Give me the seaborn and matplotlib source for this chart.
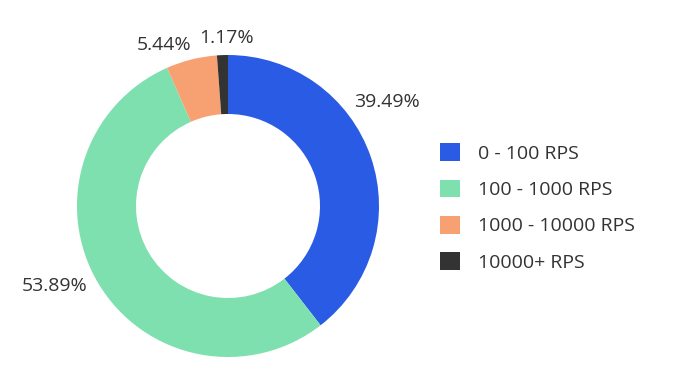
import matplotlib
matplotlib.use("Agg")
import matplotlib.pyplot as plt
import matplotlib.patches as mpatches
import seaborn as sns
import numpy as np

categories = ["0 - 100 RPS", "100 - 1000 RPS", "1000 - 10000 RPS", "10000+ RPS"]
values = [39.49, 53.89, 5.44, 1.17]
colors = ["#2A5BE5", "#7EE0AE", "#F7A072", "#333333"]
label_radius = [1.258, 1.263, 1.147, 1.113]
label_angle_shift = [14.3, -6.0, 7.7, -1.7]

sns.set_theme(style="white")
plt.rcParams["font.family"] = ["Open Sans", "DejaVu Sans"]
text_color = "#333333"
fs = 14

fig = plt.figure(figsize=(6.79, 3.81), dpi=100)
W, H = 679, 381
cx, cy, R = 228, 206, 151
ax = fig.add_axes([(cx - R) / W, (H - cy - R) / H, 2 * R / W, 2 * R / H])

wedges, _ = ax.pie(values, colors=colors, startangle=90, counterclock=False,
                   radius=1.0, wedgeprops=dict(width=1 - 92 / 151, linewidth=0))
ax.set_xlim(-1, 1)
ax.set_ylim(-1, 1)
ax.set_aspect("equal")
ax.axis("off")

for w, v, r, s in zip(wedges, values, label_radius, label_angle_shift):
    mid = np.deg2rad((w.theta1 + w.theta2) / 2 + s)
    ax.text(r * np.cos(mid), r * np.sin(mid), f"{v:.2f}%", ha="center", va="center",
            fontsize=fs, color=text_color, clip_on=False)

handles = [mpatches.Patch(facecolor=c, edgecolor="none") for c in colors]
leg = fig.legend(handles, categories, loc="center left",
                 bbox_to_anchor=(440 / W, (H - 207.5) / H), frameon=False,
                 borderpad=0, borderaxespad=0, handlelength=1.03, handleheight=1.03,
                 handletextpad=0.93, labelspacing=0.87,
                 prop=dict(size=fs),
                 labelcolor=text_color)

fig.savefig("out.png", dpi=100)
